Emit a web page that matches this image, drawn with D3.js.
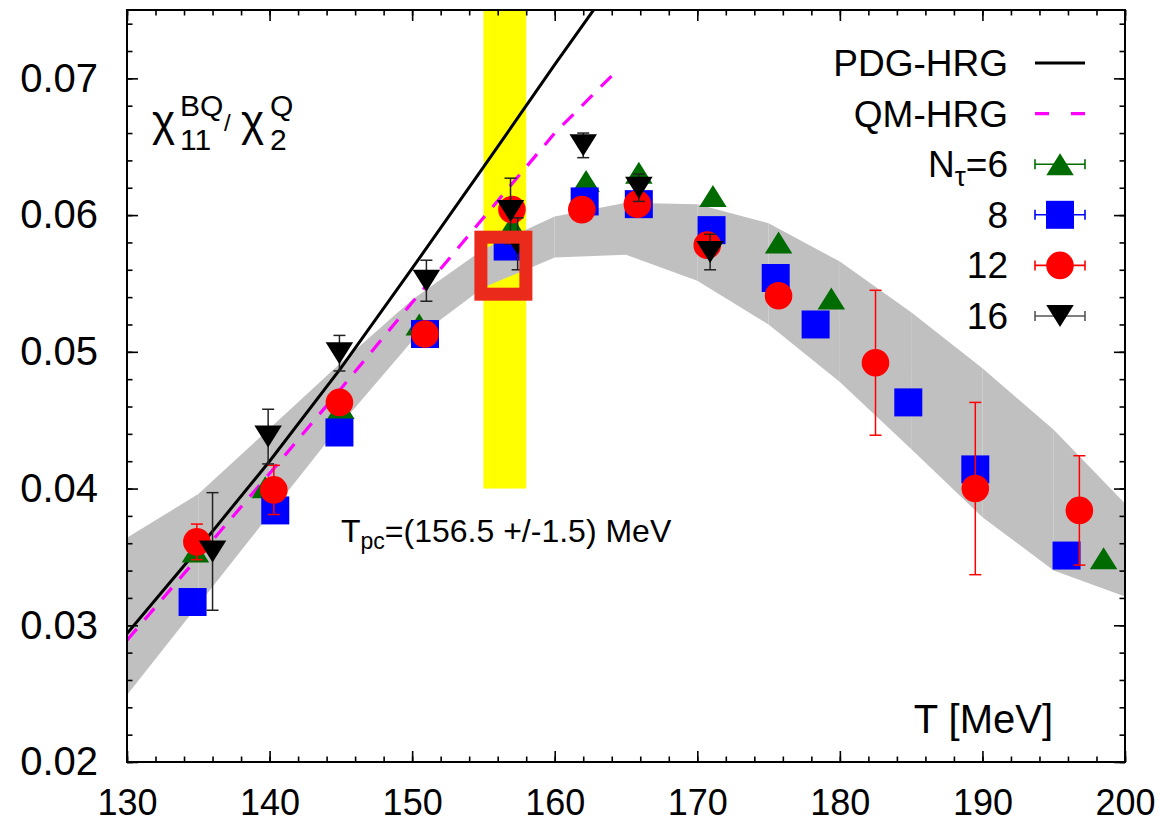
<!DOCTYPE html>
<html>
<head>
<meta charset="utf-8">
<script src="https://cdn.jsdelivr.net/npm/d3@7"></script>
<style>
  body { margin: 0; background: #fff; }
  svg { display: block; font-family: "Liberation Sans", Arial, Helvetica, sans-serif; }
</style>
</head>
<body>
<svg id="chart" width="1171" height="825"></svg>
<script>
// ---- lattice results: chi11^BQ / chi2^Q versus temperature T [MeV] ----
const tempN6 = [134.8, 139.7, 145.0, 150.5, 157.0, 162.2, 165.9, 171.1, 175.7, 179.4, 198.5];
const ratioN6 = [0.0354, 0.0401, 0.0459, 0.0520, 0.0592, 0.0625, 0.0631, 0.0614, 0.0580, 0.0539, 0.0349];

const tempN8 = [134.6, 140.4, 144.9, 150.9, 156.7, 162.1, 165.9, 171.0, 175.5, 178.3, 184.8, 189.5, 195.9];
const ratioN8 = [0.0317, 0.0384, 0.0441, 0.0513, 0.0577, 0.0610, 0.0608, 0.0589, 0.0554, 0.0520, 0.0463, 0.0414, 0.0351];

const tempN12 = [134.9, 140.3, 144.9, 150.9, 157.0, 161.9, 165.8, 170.7, 175.7, 182.5, 189.5, 196.8];
const ratioN12 = [0.0361, 0.0399, 0.0463, 0.0513, 0.0604, 0.0604, 0.0608, 0.0578, 0.0541, 0.0492, 0.0400, 0.0384];
const errN12 = [0.0013, 0.0018, 0, 0, 0, 0, 0, 0, 0, 0.0053, 0.0063, 0.0040];

const tempN16 = [136.0, 139.9, 144.9, 151.0, 156.9, 157.4, 162.0, 165.9, 170.9];
const ratioN16 = [0.0354, 0.0438, 0.0499, 0.0552, 0.0603, 0.0579, 0.0651, 0.0620, 0.0573];
const errN16 = [0.0043, 0.0020, 0.0013, 0.0015, 0.0024, 0.0019, 0.0009, 0.0010, 0.0013];

// continuum estimate (grey band)
const bandT = [130, 135, 140, 145, 150, 155, 160, 165, 170, 175, 180, 185, 190, 195, 200];
const bandHi = [0.0364, 0.0396, 0.0444, 0.0492, 0.0538, 0.0575, 0.0599, 0.0609, 0.0608, 0.0594, 0.0566, 0.0529, 0.0488, 0.0443, 0.0389];
const bandLo = [0.0249, 0.0315, 0.0381, 0.0447, 0.0508, 0.0547, 0.0569, 0.0571, 0.0552, 0.0520, 0.0478, 0.0429, 0.0379, 0.0340, 0.0321];

// hadron resonance gas curves
const pdgT = [130, 135, 140, 145, 150, 155, 160, 163];
const pdgVal = [0.0294, 0.0356, 0.0420, 0.0488, 0.0561, 0.0635, 0.0710, 0.0754];
const qmT = [130, 135, 140, 145, 150, 155, 160, 164.2];
const qmVal = [0.0289, 0.0350, 0.0411, 0.0473, 0.0536, 0.0598, 0.0660, 0.0704];

// pseudo-critical temperature band and highlighted point
const tpc = 156.5, tpcErr = 1.5, tpcBandBottom = 0.04;
const markT = 156.4, markVal = 0.0563;

const xTicks = [130, 140, 150, 160, 170, 180, 190, 200];
const yTicks = [0.02, 0.03, 0.04, 0.05, 0.06, 0.07];

// ---- layout ----
const svg = d3.select("#chart");
const L = 127, R = 1125, T = 10, B = 762;
const x = d3.scaleLinear().domain([130, 200]).range([L, R]);
const y = d3.scaleLinear().domain([0.02, 0.075]).range([B, T]);

svg.append("defs").append("clipPath").attr("id", "plotArea")
  .append("rect").attr("x", L).attr("y", T).attr("width", R - L).attr("height", B - T);

const plot = svg.append("g").attr("clip-path", "url(#plotArea)");

// yellow Tpc band
plot.append("rect")
  .attr("x", x(tpc - tpcErr)).attr("width", x(tpc + tpcErr) - x(tpc - tpcErr))
  .attr("y", T).attr("height", y(tpcBandBottom) - T)
  .attr("fill", "#ffff00");

// grey band, one quad per temperature interval
const bandSeg = d3.range(bandT.length - 1);
plot.selectAll("path.band").data(bandSeg).join("path")
  .attr("class", "band")
  .attr("fill", "#c0c0c0")
  .attr("d", i => {
    const p = d3.path();
    p.moveTo(x(bandT[i]), y(bandHi[i]));
    p.lineTo(x(bandT[i + 1]), y(bandHi[i + 1]));
    p.lineTo(x(bandT[i + 1]), y(bandLo[i + 1]));
    p.lineTo(x(bandT[i]), y(bandLo[i]));
    p.closePath();
    return p.toString();
  });

// HRG curves
const line = d3.line().x(d => x(d[0])).y(d => y(d[1]));
plot.append("path").datum(d3.zip(pdgT, pdgVal)).attr("d", line)
  .attr("fill", "none").attr("stroke", "#000").attr("stroke-width", 3);
plot.append("path").datum(d3.zip(qmT, qmVal)).attr("d", line)
  .attr("fill", "none").attr("stroke", "#ff00ff").attr("stroke-width", 3.2)
  .attr("stroke-dasharray", "15,12");

// ---- marker shapes ----
const SQ = 28, CR = 13.8, TW = 27.5, TH = 22;
function markerPath(kind, cx, cy) {
  const p = d3.path();
  if (kind === "up") {
    p.moveTo(cx - TW / 2, cy + TH / 2); p.lineTo(cx + TW / 2, cy + TH / 2); p.lineTo(cx, cy - TH / 2); p.closePath();
  } else if (kind === "down") {
    p.moveTo(cx - TW / 2, cy - TH / 2); p.lineTo(cx + TW / 2, cy - TH / 2); p.lineTo(cx, cy + TH / 2); p.closePath();
  } else if (kind === "square") {
    p.rect(cx - SQ / 2, cy - SQ / 2, SQ, SQ);
  } else {
    p.moveTo(cx + CR, cy); p.arc(cx, cy, CR, 0, 2 * Math.PI);
  }
  return p.toString();
}

function errorBars(g, temps, vals, errs, color) {
  const rows = d3.range(temps.length).filter(i => errs[i] > 0);
  const cap = 6;
  rows.forEach(i => {
    const cx = x(temps[i]), y1 = y(vals[i] + errs[i]), y2 = y(vals[i] - errs[i]);
    g.append("line").attr("x1", cx).attr("x2", cx).attr("y1", y1).attr("y2", y2);
    g.append("line").attr("x1", cx - cap).attr("x2", cx + cap).attr("y1", y1).attr("y2", y1);
    g.append("line").attr("x1", cx - cap).attr("x2", cx + cap).attr("y1", y2).attr("y2", y2);
  });
  g.attr("stroke", color).attr("stroke-width", 1.5);
}

function series(temps, vals, errs, kind, color, errColor) {
  const g = plot.append("g");
  if (errs) errorBars(g.append("g"), temps, vals, errs, errColor);
  g.selectAll("path.m").data(d3.range(temps.length)).join("path")
    .attr("class", "m")
    .attr("d", i => markerPath(kind, x(temps[i]), y(vals[i])))
    .attr("fill", color);
}

series(tempN6, ratioN6, null, "up", "#006b00");
series(tempN8, ratioN8, null, "square", "#0000ff");
series(tempN12, ratioN12, errN12, "circle", "#ff0000", "#ff0000");
series(tempN16, ratioN16, errN16, "down", "#000000", "#222222");

// highlighted open square at Tpc
plot.append("rect")
  .attr("x", x(markT) - 22.5).attr("y", y(markVal) - 28.5)
  .attr("width", 45).attr("height", 57)
  .attr("fill", "none").attr("stroke", "#ea2a1a").attr("stroke-width", 13);

// ---- axes (ticks point inwards on all four sides) ----
function styleAxis(g) {
  g.select(".domain").remove();
  g.selectAll(".tick line").attr("stroke", "#000").attr("stroke-width", 1.6);
  g.attr("font-family", null).attr("font-size", null);
}
const minorX = x.ticks(35), minorY = y.ticks(27);

svg.append("g").attr("transform", `translate(0,${B})`)
  .call(d3.axisBottom(x).tickValues(minorX).tickSizeInner(-5.5).tickSizeOuter(0).tickFormat(""))
  .call(styleAxis);
svg.append("g").attr("transform", `translate(0,${B})`)
  .call(d3.axisBottom(x).tickValues(xTicks).tickSizeInner(-11).tickSizeOuter(0).tickPadding(27).tickFormat(d3.format("d")))
  .call(styleAxis)
  .call(g => g.selectAll("text").attr("font-size", 36).attr("fill", "#000"));
svg.append("g").attr("transform", `translate(0,${T})`)
  .call(d3.axisTop(x).tickValues(minorX).tickSizeInner(-5.5).tickSizeOuter(0).tickFormat(""))
  .call(styleAxis);
svg.append("g").attr("transform", `translate(0,${T})`)
  .call(d3.axisTop(x).tickValues(xTicks).tickSizeInner(-11).tickSizeOuter(0).tickFormat(""))
  .call(styleAxis);

svg.append("g").attr("transform", `translate(${L},0)`)
  .call(d3.axisLeft(y).tickValues(minorY).tickSizeInner(-5.5).tickSizeOuter(0).tickFormat(""))
  .call(styleAxis);
svg.append("g").attr("transform", `translate(${L},0)`)
  .call(d3.axisLeft(y).tickValues(yTicks).tickSizeInner(-11).tickSizeOuter(0).tickPadding(29).tickFormat(d3.format(".2f")))
  .call(styleAxis)
  .call(g => g.selectAll("text").attr("font-size", 40).attr("fill", "#000"));
svg.append("g").attr("transform", `translate(${R},0)`)
  .call(d3.axisRight(y).tickValues(minorY).tickSizeInner(-5.5).tickSizeOuter(0).tickFormat(""))
  .call(styleAxis);
svg.append("g").attr("transform", `translate(${R},0)`)
  .call(d3.axisRight(y).tickValues(yTicks).tickSizeInner(-11).tickSizeOuter(0).tickFormat(""))
  .call(styleAxis);

// frame
svg.append("rect").attr("x", L).attr("y", T).attr("width", R - L).attr("height", B - T)
  .attr("fill", "none").attr("stroke", "#000").attr("stroke-width", 2);

// ---- annotations ----
svg.append("text").attr("x", 1053).attr("y", 733).attr("text-anchor", "end")
  .attr("font-size", 40).text("T [MeV]");

const tpcLabel = svg.append("text").attr("x", 341).attr("y", 542).attr("font-size", 32);
tpcLabel.append("tspan").text("T");
tpcLabel.append("tspan").attr("font-size", 23).attr("dy", 7).text("pc");
tpcLabel.append("tspan").attr("dy", -7).text("=(156.5 +/-1.5) MeV");

// chi_11^BQ / chi_2^Q
const ttl = svg.append("g");
ttl.append("text").attr("x", 152).attr("y", 136).attr("font-size", 44).text("χ");
ttl.append("text").attr("x", 180).attr("y", 150).attr("font-size", 30).text("11");
ttl.append("text").attr("x", 180).attr("y", 116).attr("font-size", 30).text("BQ");
ttl.append("text").attr("x", 224).attr("y", 131).attr("font-size", 24).text("/");
ttl.append("text").attr("x", 241).attr("y", 136).attr("font-size", 44).text("χ");
ttl.append("text").attr("x", 270).attr("y", 150).attr("font-size", 30).text("2");
ttl.append("text").attr("x", 270).attr("y", 116).attr("font-size", 30).text("Q");

// ---- legend ----
const legendNames = ["PDG-HRG", "QM-HRG", "N", "8", "12", "16"];
const legX = 1008, sx1 = 1035, sx2 = 1085, sxm = 1060, row0 = 63, rowGap = 50.6;
const leg = svg.append("g").attr("font-size", 37);
legendNames.forEach((name, i) => {
  const ry = row0 + i * rowGap;
  const t = leg.append("text").attr("x", legX).attr("y", ry + 13).attr("text-anchor", "end");
  if (i === 2) {
    t.append("tspan").text("N");
    t.append("tspan").attr("font-size", 28).attr("dy", 9).text("τ");
    t.append("tspan").attr("dy", -9).text("=6");
  } else {
    t.text(name);
  }
});
leg.append("line").attr("x1", sx1).attr("x2", sx2).attr("y1", row0).attr("y2", row0)
  .attr("stroke", "#000").attr("stroke-width", 3);
leg.append("line").attr("x1", sx1).attr("x2", sx2).attr("y1", row0 + rowGap).attr("y2", row0 + rowGap)
  .attr("stroke", "#ff00ff").attr("stroke-width", 3.2).attr("stroke-dasharray", "14,22");

const legMarks = [["up", "#006b00", "#006b00"], ["square", "#0000ff", "#0000ff"],
                  ["circle", "#ff0000", "#ff0000"], ["down", "#000000", "#555555"]];
legMarks.forEach(([kind, fill, ec], k) => {
  const ry = row0 + (k + 2) * rowGap;
  const g = leg.append("g");
  g.append("line").attr("x1", sx1).attr("x2", sx2).attr("y1", ry).attr("y2", ry);
  g.append("line").attr("x1", sx1).attr("x2", sx1).attr("y1", ry - 5).attr("y2", ry + 5);
  g.append("line").attr("x1", sx2).attr("x2", sx2).attr("y1", ry - 5).attr("y2", ry + 5);
  g.attr("stroke", ec).attr("stroke-width", 1.6);
  leg.append("path").attr("d", markerPath(kind, sxm, ry)).attr("fill", fill);
});
</script>
</body>
</html>
